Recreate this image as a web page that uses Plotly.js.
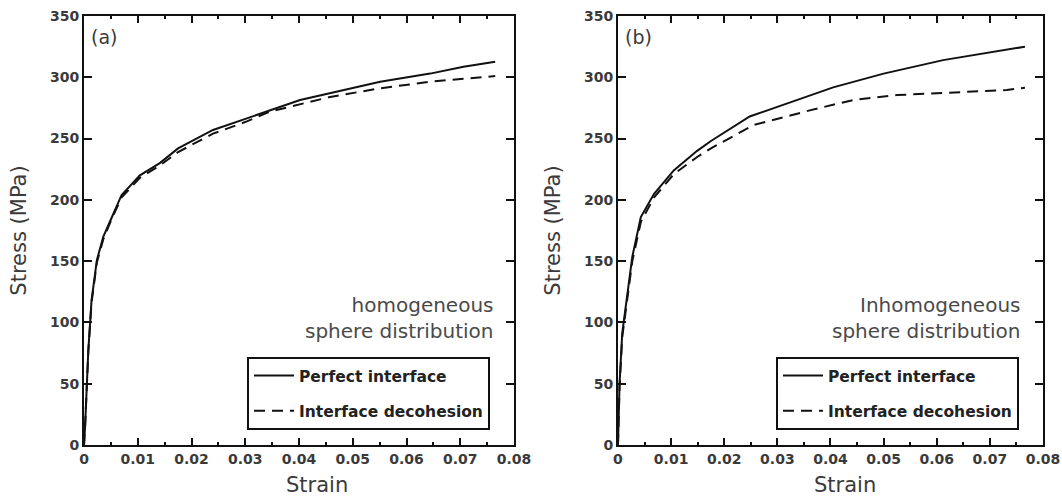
<!DOCTYPE html>
<html><head><meta charset="utf-8">
<script src="https://cdn.plot.ly/plotly-3.0.1.min.js"></script>
<style>html,body{margin:0;padding:0;background:#fff}#chart{width:1062px;height:497px}</style>
</head><body><div id="chart"></div>
<script>
// (a) homogeneous sphere distribution
const strainAPerfect = [0, 0.0002, 0.0008, 0.0014, 0.0024, 0.0036, 0.0052, 0.007, 0.0104, 0.0141, 0.0175, 0.024, 0.0303, 0.0402, 0.0551, 0.0644, 0.0706, 0.0765];
const stressAPerfect = [0, 15, 77, 118, 151, 170, 186, 204, 220, 230, 242, 257, 266.5, 281.5, 296.4, 303, 308.6, 312.7];
const strainADecoh = [0, 0.0002, 0.0008, 0.0014, 0.0024, 0.0036, 0.0052, 0.007, 0.0104, 0.0141, 0.0175, 0.024, 0.0303, 0.0346, 0.0458, 0.0551, 0.0644, 0.0724, 0.0765];
const stressADecoh = [0, 15, 76, 116, 149, 168, 185, 202, 218, 228, 239, 254, 264, 272, 284, 291, 296.4, 299.7, 301];
// (b) inhomogeneous sphere distribution
const strainBPerfect = [0, 0.0003, 0.0008, 0.0018, 0.0027, 0.0043, 0.0068, 0.0105, 0.0149, 0.0175, 0.0248, 0.0405, 0.05, 0.0612, 0.0766];
const stressBPerfect = [0, 50, 91, 126, 153.6, 186, 205, 224, 240, 248, 268, 291.8, 303, 314, 325];
const strainBDecoh = [0, 0.0003, 0.0008, 0.0018, 0.0027, 0.0043, 0.0068, 0.0105, 0.0149, 0.0179, 0.0255, 0.0361, 0.0443, 0.0525, 0.0612, 0.0732, 0.0766];
const stressBDecoh = [0, 48, 88, 122, 150, 182, 202, 221, 235, 243, 261, 273, 281.5, 285.5, 287.4, 289.6, 291.5];

const seriesNames = ['Perfect interface', 'Interface decohesion'];
const panelLabels = ['(a)', '(b)'];
const panelNotes = ['homogeneous<br>sphere distribution', 'Inhomogeneous<br>sphere distribution'];
const xTitle = 'Strain';
const yTitle = 'Stress (MPa)';

const FONT = 'DejaVu Sans, Verdana, sans-serif';
const solid = {color: '#111', width: 2, dash: 'solid'};
const dashed = {color: '#111', width: 2, dash: '11px,7px'};

const traces = [
  {x: strainAPerfect, y: stressAPerfect, name: seriesNames[0], mode: 'lines', line: solid, xaxis: 'x', yaxis: 'y', legend: 'legend', legendgroup: 'a1'},
  {x: strainADecoh, y: stressADecoh, name: seriesNames[1], mode: 'lines', line: dashed, xaxis: 'x', yaxis: 'y', legend: 'legend', legendgroup: 'a2'},
  {x: strainBPerfect, y: stressBPerfect, name: seriesNames[0], mode: 'lines', line: solid, xaxis: 'x2', yaxis: 'y2', legend: 'legend2', legendgroup: 'b1'},
  {x: strainBDecoh, y: stressBDecoh, name: seriesNames[1], mode: 'lines', line: dashed, xaxis: 'x2', yaxis: 'y2', legend: 'legend2', legendgroup: 'b2'}
];

const tickFont = {family: FONT, size: 14, color: '#3a3a3a', weight: 'bold'};
const titleFont = {family: FONT, size: 21, color: '#3a3a3a'};

function xAxis(domain, anchor) {
  return {
    domain: domain, anchor: anchor, range: [0, 0.08], dtick: 0.01, tick0: 0, tickangle: 0,
    showline: true, linecolor: '#111', linewidth: 2, mirror: 'ticks',
    ticks: 'inside', ticklen: 7, tickwidth: 2, tickcolor: '#111',
    minor: {ticks: 'inside', dtick: 0.005, ticklen: 3, tickwidth: 2, tickcolor: '#111', showgrid: false},
    showgrid: false, zeroline: false, tickfont: tickFont,
    automargin: false, fixedrange: true
  };
}
function yAxis(anchor) {
  return {
    anchor: anchor, range: [0, 350], dtick: 50, tick0: 0,
    showline: true, linecolor: '#111', linewidth: 2, mirror: 'ticks',
    ticks: 'inside', ticklen: 8, tickwidth: 2, tickcolor: '#111',
    showgrid: false, zeroline: false, tickfont: tickFont,
    title: {text: yTitle, font: titleFont, standoff: 18}, automargin: false, fixedrange: true
  };
}

const legendBase = {
  xref: 'paper', yref: 'paper', xanchor: 'left', yanchor: 'top',
  bgcolor: '#fff', bordercolor: '#111', borderwidth: 2,
  font: {family: FONT, size: 15.5, color: '#222', weight: 'bold'},
  tracegroupgap: 12, itemwidth: 40
};

const layout = {
  width: 1062, height: 497,
  margin: {l: 84, r: 19, t: 16, b: 52, autoexpand: false},
  paper_bgcolor: '#fff', plot_bgcolor: '#fff',
  showlegend: true,
  xaxis: xAxis([0, 0.4484], 'y'),
  yaxis: yAxis('x'),
  xaxis2: xAxis([0.5568, 1], 'y2'),
  yaxis2: yAxis('x2'),
  legend: Object.assign({}, legendBase, {x: (247 - 84) / 959, y: (445 - 357) / 429}),
  legend2: Object.assign({}, legendBase, {x: (776 - 84) / 959, y: (445 - 357) / 429}),
  annotations: [
    {xref: 'x domain', yref: 'paper', x: 0.542, y: -0.093, xanchor: 'center', yanchor: 'middle', text: xTitle, showarrow: false, font: titleFont},
    {xref: 'x2 domain', yref: 'paper', x: 0.535, y: -0.093, xanchor: 'center', yanchor: 'middle', text: xTitle, showarrow: false, font: titleFont},
    {xref: 'x domain', yref: 'y domain', x: 0.012, y: 0.95, xanchor: 'left', yanchor: 'middle', text: panelLabels[0], showarrow: false, font: {family: FONT, size: 19, color: '#3a3a3a'}},
    {xref: 'x2 domain', yref: 'y2 domain', x: 0.012, y: 0.95, xanchor: 'left', yanchor: 'middle', text: panelLabels[1], showarrow: false, font: {family: FONT, size: 19, color: '#3a3a3a'}},
    {xref: 'x domain', yref: 'y domain', x: 0.958, y: 0.296, xanchor: 'right', yanchor: 'middle', align: 'right', text: panelNotes[0], showarrow: false, font: {family: FONT, size: 20, color: '#4a4a4a'}},
    {xref: 'x2 domain', yref: 'y2 domain', x: 0.953, y: 0.296, xanchor: 'right', yanchor: 'middle', align: 'right', text: panelNotes[1], showarrow: false, font: {family: FONT, size: 20, color: '#4a4a4a'}}
  ]
};

Plotly.newPlot('chart', traces, layout, {staticPlot: true, displayModeBar: false});
</script>
</body></html>
